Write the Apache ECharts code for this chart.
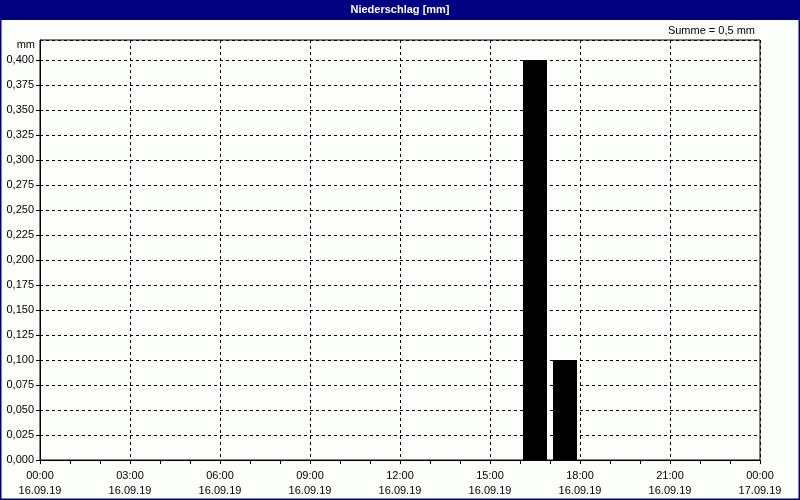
<!DOCTYPE html>
<html>
<head>
<meta charset="utf-8">
<script src="https://cdn.jsdelivr.net/npm/echarts@6/dist/echarts.min.js"></script>
<style>
  html, body { margin: 0; padding: 0; background: #fcfefc; }
  #chart { width: 800px; height: 500px; }
</style>
</head>
<body>
<div id="chart"></div>
<script>
// hourly precipitation on 16.09.19, hour 0..23 (mm)
const hourlyValues = [
    0, 0, 0, 0, 0, 0, 0, 0, 0, 0, 0, 0,
    0, 0, 0, 0, 0.4, 0.1, 0, 0, 0, 0, 0, 0
];
const timeLabels = ['00:00', '03:00', '06:00', '09:00', '12:00', '15:00', '18:00', '21:00', '00:00'];
const dateLabels = ['16.09.19', '16.09.19', '16.09.19', '16.09.19', '16.09.19', '16.09.19', '16.09.19', '16.09.19', '17.09.19'];
const chartTitle = 'Niederschlag [mm]';
const sumLabel = 'Summe = 0,5 mm';
const unitLabel = 'mm';

const FONT = 'Liberation Sans';
const NAVY = '#000080';

const chart = echarts.init(document.getElementById('chart'));

// bars sit in the middle of their hour
const barData = hourlyValues.map((v, i) => [i + 0.5, v]);

const dashed = { color: '#000', width: 1, type: [3, 3] };

chart.setOption({
    animation: false,
    backgroundColor: '#fcfefc',
    textStyle: { fontFamily: FONT },
    grid: {
        left: 40, right: 40, top: 40, bottom: 40,
        show: true,
        borderColor: '#000',
        borderWidth: 1
    },
    graphic: [
        {
            type: 'rect', z: 100,
            shape: { x: 0, y: 0, width: 800, height: 20 },
            style: { fill: NAVY }
        },
        {
            type: 'rect', z: 100,
            shape: { x: 0.5, y: 0.5, width: 799, height: 499 },
            style: { fill: null, stroke: NAVY, lineWidth: 2 }
        },
        {
            type: 'text', z: 101, left: 'center', top: 4,
            style: { text: chartTitle, fill: '#fff', font: 'bold 11px ' + FONT }
        },
        {
            type: 'text', z: 101, right: 45, top: 25,
            style: { text: sumLabel, fill: '#000', font: '11px ' + FONT }
        },
        {
            type: 'text', z: 101, x: 35, y: 45,
            style: {
                text: unitLabel, fill: '#000', font: '11px ' + FONT,
                align: 'right', verticalAlign: 'middle'
            }
        }
    ],
    xAxis: {
        type: 'value',
        min: 0,
        max: 24,
        interval: 3,
        axisLine: { lineStyle: { color: '#000' } },
        axisTick: { show: true, length: 4, lineStyle: { color: '#000' } },
        minorTick: { show: true, splitNumber: 3, length: 4, lineStyle: { color: '#000' } },
        splitLine: { show: true, lineStyle: dashed },
        axisLabel: {
            color: '#000',
            fontSize: 11,
            fontFamily: FONT,
            lineHeight: 15,
            margin: 8,
            formatter: v => {
                const i = Math.round(v / 3);
                return timeLabels[i] + '\n' + dateLabels[i];
            }
        }
    },
    yAxis: {
        type: 'value',
        min: 0,
        max: 0.42,
        interval: 0.025,
        axisLine: { show: true, lineStyle: { color: '#000' } },
        axisTick: { show: true, length: 4, lineStyle: { color: '#000' } },
        splitLine: { show: true, lineStyle: dashed },
        axisLabel: {
            color: '#000',
            fontSize: 11,
            fontFamily: FONT,
            margin: 6,
            showMaxLabel: false,
            formatter: v => v.toFixed(3).replace('.', ',')
        }
    },
    series: [{
        type: 'bar',
        data: barData,
        barWidth: 24,
        itemStyle: { color: '#000' }
    }]
});
</script>
</body>
</html>
